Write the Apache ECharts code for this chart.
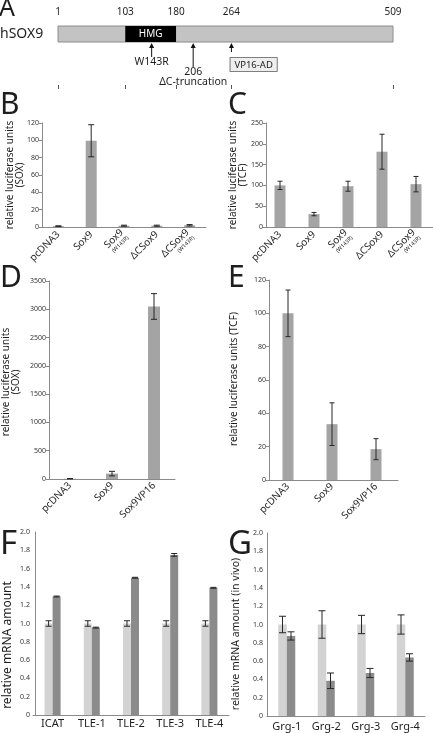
<!DOCTYPE html>
<html><head><meta charset="utf-8">
<script src="https://cdn.jsdelivr.net/npm/echarts@6/dist/echarts.min.js"></script>
<style>html,body{margin:0;padding:0;background:#fff}#c{width:433px;height:733px}</style>
</head><body><div id="c"></div>
<script>
// ---------- Panel A: hSOX9 domain map ----------
const aTicks = [1, 103, 180, 264, 509];
const aProtein = [1, 509];
const aHmg = [103, 180];
const aMarkerPos = [143, 206, 264];
const aMarkerLabels = ['W143R', '206\nΔC-truncation', ''];
const aVp16Start = 264;

// ---------- Panel B: SOX reporter ----------
const bCats = ['pcDNA3', 'Sox9', 'Sox9 (W143R)', 'ΔCSox9', 'ΔCSox9 (W143R)'];
const bVals = [1, 99.5, 1.5, 1.5, 2];
const bErr = [0.4, 18.5, 0.6, 0.6, 0.8];

// ---------- Panel C: TCF reporter ----------
const cCats = ['pcDNA3', 'Sox9', 'Sox9 (W143R)', 'ΔCSox9', 'ΔCSox9 (W143R)'];
const cVals = [100, 31, 98, 181, 103];
const cErr = [10, 4, 12, 42, 18.5];

// ---------- Panel D: SOX reporter, VP16 ----------
const dCats = ['pcDNA3', 'Sox9', 'Sox9VP16'];
const dVals = [5, 95, 3050];
const dErr = [3, 40, 227];

// ---------- Panel E: TCF reporter, VP16 ----------
const eCats = ['pcDNA3', 'Sox9', 'Sox9VP16'];
const eVals = [100, 33.5, 18.5];
const eErr = [14, 12.8, 6.3];

// ---------- Panel F: mRNA amount ----------
const fCats = ['ICAT', 'TLE-1', 'TLE-2', 'TLE-3', 'TLE-4'];
const fCtrl = [1, 1, 1, 1, 1];
const fCtrlErr = [0.03, 0.03, 0.03, 0.03, 0.03];
const fSox = [1.295, 0.955, 1.5, 1.75, 1.39];
const fSoxErr = [0.005, 0.005, 0.005, 0.015, 0.005];

// ---------- Panel G: mRNA amount in vivo ----------
const gCats = ['Grg-1', 'Grg-2', 'Grg-3', 'Grg-4'];
const gCtrl = [1, 1, 1, 1];
const gCtrlErr = [0.09, 0.15, 0.1, 0.105];
const gSox = [0.875, 0.385, 0.47, 0.64];
const gSoxErr = [0.045, 0.085, 0.05, 0.04];

const FONT = '"Noto Sans", "DejaVu Sans", sans-serif';
const INK = '#1e1e1e';

function txt(text, x, y, size, o) {
  o = o || {};
  const al = o.align || 'left', va = o.va || 'middle';
  return { type: 'text', x: x, y: y, rotation: o.rot || 0, silent: true,
    style: { text: text, x: 0, y: 0, font: size + 'px ' + FONT, fill: o.fill || INK,
      align: al, textAlign: al, verticalAlign: va, textVerticalAlign: va,
      lineHeight: o.lh || undefined } };
}

function errBar(off, cap) {
  return function (params, api) {
    const i = api.value(0), v = api.value(1), e = api.value(2);
    const p1 = api.coord([i, v + e]), p2 = api.coord([i, v - e]);
    const x = p1[0] + off;
    const st = { stroke: '#262626', lineWidth: 1 };
    return { type: 'group', children: [
      { type: 'line', shape: { x1: x, y1: p1[1], x2: x, y2: p2[1] }, style: st },
      { type: 'line', shape: { x1: x - cap / 2, y1: p1[1], x2: x + cap / 2, y2: p1[1] }, style: st },
      { type: 'line', shape: { x1: x - cap / 2, y1: p2[1], x2: x + cap / 2, y2: p2[1] }, style: st }
    ] };
  };
}

function rotLabel(v) {
  const m = v.match(/^(.*) \((.*)\)$/);
  if (m) return '{m|' + m[1] + '}\n{s|(' + m[2] + ')}';
  return '{m|' + v + '}';
}
const rotRich = {
  m: { fontSize: 10, fontFamily: FONT, color: INK, lineHeight: 11 },
  s: { fontSize: 5.5, fontFamily: FONT, color: INK, lineHeight: 6 }
};

function catX(gi, cats, rotate, fs, margin) {
  return { gridIndex: gi, type: 'category', data: cats,
    axisLine: { lineStyle: { color: '#8a8a8a', width: 1 } },
    axisTick: { show: false },
    axisLabel: rotate ? { rotate: 45, interval: 0, margin: margin, formatter: rotLabel, rich: rotRich }
      : { interval: 0, margin: margin, fontSize: fs, fontFamily: FONT, color: INK } };
}
function valY(gi, max, step, off, fmt, ticks, margin) {
  return { gridIndex: gi, type: 'value', min: 0, max: max, interval: step, offset: off,
    axisLine: { show: true, lineStyle: { color: '#8a8a8a', width: 1 } },
    axisTick: { show: ticks, length: 3, lineStyle: { color: '#8a8a8a' } },
    axisLabel: { fontSize: 7, fontFamily: FONT, color: '#333', margin: margin, formatter: fmt },
    splitLine: { show: false } };
}
const plain = v => String(v);
const dec1 = v => (v === 0 ? '0' : v.toFixed(1));

// ---- Panel A renderers ----
function renderProtein(params, api) {
  const x0 = api.coord([api.value(0), 0])[0], x1 = api.coord([api.value(1), 0])[0];
  const top = params.coordSys.y;
  return { type: 'rect', shape: { x: x0, y: top + 7, width: x1 - x0, height: 16 },
    style: { fill: '#c3c3c3', stroke: '#8c8c8c', lineWidth: 1 } };
}
function renderHmg(params, api) {
  const x0 = api.coord([api.value(0), 0])[0], x1 = api.coord([api.value(1), 0])[0];
  const top = params.coordSys.y;
  return { type: 'group', children: [
    { type: 'rect', shape: { x: x0, y: top + 7, width: x1 - x0, height: 16 }, style: { fill: '#000' } },
    { type: 'text', style: { text: 'HMG', x: (x0 + x1) / 2, y: top + 15.5, font: '10px ' + FONT, fill: '#fff',
      align: 'center', textAlign: 'center', verticalAlign: 'middle', textVerticalAlign: 'middle' } }
  ] };
}
const markerLen = [14, 24, 9];
function renderMarker(params, api) {
  const i = params.dataIndex;
  const x = api.coord([api.value(0), 0])[0];
  const y0 = params.coordSys.y + 24;
  const len = markerLen[i];
  const ch = [
    { type: 'line', shape: { x1: x, y1: y0 + 3, x2: x, y2: y0 + len }, style: { stroke: '#111', lineWidth: 1 } },
    { type: 'polygon', shape: { points: [[x, y0], [x - 2.5, y0 + 5], [x + 2.5, y0 + 5]] }, style: { fill: '#111' } }
  ];
  const lab = aMarkerLabels[i];
  if (lab) ch.push({ type: 'text', style: { text: lab, x: x, y: y0 + len + 0.5, font: '10.5px ' + FONT, fill: INK,
    lineHeight: 9.5, align: 'center', textAlign: 'center', verticalAlign: 'top', textVerticalAlign: 'top' } });
  return { type: 'group', children: ch };
}
function renderVp16(params, api) {
  const x = api.coord([api.value(0), 0])[0];
  const top = params.coordSys.y;
  return { type: 'text', style: { text: 'VP16-AD', x: x - 1, y: top + 39, font: '9.5px ' + FONT, fill: INK,
    align: 'left', textAlign: 'left', verticalAlign: 'top', textVerticalAlign: 'top',
    backgroundColor: '#eeeeee', borderColor: '#555', borderWidth: 0.8, padding: [2, 4, 1, 4] } };
}

const option = {
  backgroundColor: '#fff',
  animation: false,
  grid: [
    { left: 58, width: 335, top: 19, height: 70 },   // A
    { left: 42, width: 164, top: 123, height: 104 }, // B
    { left: 263, width: 172, top: 123, height: 104 },// C
    { left: 49, width: 126, top: 281, height: 198 }, // D
    { left: 266, width: 132, top: 280, height: 200 },// E
    { left: 33, width: 196, top: 532, height: 183 }, // F
    { left: 267, width: 158, top: 533, height: 183 } // G
  ],
  xAxis: [
    { gridIndex: 0, type: 'value', position: 'top', min: aProtein[0], max: aProtein[1],
      axisLine: { show: false }, splitLine: { show: false },
      axisTick: { show: true, customValues: aTicks, length: 4, lineStyle: { color: '#555' } },
      axisLabel: { customValues: aTicks, fontSize: 10, fontFamily: FONT, color: INK, margin: 2 } },
    catX(1, bCats, true, 10, 6),
    catX(2, cCats, true, 10, 6),
    catX(3, dCats, true, 10, 5),
    catX(4, eCats, true, 10, 5),
    catX(5, fCats, false, 11, 3),
    catX(6, gCats, false, 11, 5)
  ],
  yAxis: [
    { gridIndex: 0, type: 'value', min: 0, max: 1, show: false },
    valY(1, 120, 20, 0, plain, true, 3),
    valY(2, 250, 50, -3, plain, true, 3),
    valY(3, 3500, 500, 0, plain, true, 3),
    valY(4, 120, 20, -3, plain, true, 3),
    valY(5, 2, 0.2, -2, dec1, false, 5),
    valY(6, 2, 0.2, 0, dec1, false, 4)
  ],
  series: [
    { type: 'custom', xAxisIndex: 0, yAxisIndex: 0, data: [[aProtein[0], aProtein[1]]], encode: { x: [0, 1] }, renderItem: renderProtein, silent: true, z: 1 },
    { type: 'custom', xAxisIndex: 0, yAxisIndex: 0, data: [[aHmg[0], aHmg[1]]], encode: { x: [0, 1] }, renderItem: renderHmg, silent: true, z: 2 },
    { type: 'custom', xAxisIndex: 0, yAxisIndex: 0, data: aMarkerPos.map(p => [p]), encode: { x: 0 }, renderItem: renderMarker, silent: true, z: 3 },
    { type: 'custom', xAxisIndex: 0, yAxisIndex: 0, data: [[aVp16Start]], encode: { x: 0 }, renderItem: renderVp16, silent: true, z: 3 },

    { type: 'bar', xAxisIndex: 1, yAxisIndex: 1, data: bVals, barWidth: 11, itemStyle: { color: '#a4a4a4' }, silent: true },
    { type: 'custom', xAxisIndex: 1, yAxisIndex: 1, data: bVals.map((v, i) => [i, v, bErr[i]]), encode: { x: 0, y: 1 }, renderItem: errBar(0, 6), z: 5, silent: true },

    { type: 'bar', xAxisIndex: 2, yAxisIndex: 2, data: cVals, barWidth: 11, itemStyle: { color: '#a4a4a4' }, silent: true },
    { type: 'custom', xAxisIndex: 2, yAxisIndex: 2, data: cVals.map((v, i) => [i, v, cErr[i]]), encode: { x: 0, y: 1 }, renderItem: errBar(0, 5), z: 5, silent: true },

    { type: 'bar', xAxisIndex: 3, yAxisIndex: 3, data: dVals, barWidth: 12, itemStyle: { color: '#a4a4a4' }, silent: true },
    { type: 'custom', xAxisIndex: 3, yAxisIndex: 3, data: dVals.map((v, i) => [i, v, dErr[i]]), encode: { x: 0, y: 1 }, renderItem: errBar(0, 6), z: 5, silent: true },

    { type: 'bar', xAxisIndex: 4, yAxisIndex: 4, data: eVals, barWidth: 11, itemStyle: { color: '#a4a4a4' }, silent: true },
    { type: 'custom', xAxisIndex: 4, yAxisIndex: 4, data: eVals.map((v, i) => [i, v, eErr[i]]), encode: { x: 0, y: 1 }, renderItem: errBar(0, 5), z: 5, silent: true },

    { type: 'bar', xAxisIndex: 5, yAxisIndex: 5, data: fCtrl, barWidth: 8, barGap: '0%', itemStyle: { color: '#d3d3d3' }, silent: true },
    { type: 'bar', xAxisIndex: 5, yAxisIndex: 5, data: fSox, barWidth: 8, barGap: '0%', itemStyle: { color: '#8b8b8b' }, silent: true },
    { type: 'custom', xAxisIndex: 5, yAxisIndex: 5, data: fCtrl.map((v, i) => [i, v, fCtrlErr[i]]), encode: { x: 0, y: 1 }, renderItem: errBar(-4, 6), z: 5, silent: true },
    { type: 'custom', xAxisIndex: 5, yAxisIndex: 5, data: fSox.map((v, i) => [i, v, fSoxErr[i]]), encode: { x: 0, y: 1 }, renderItem: errBar(4, 6), z: 5, silent: true },

    { type: 'bar', xAxisIndex: 6, yAxisIndex: 6, data: gCtrl, barWidth: 8.5, barGap: '0%', itemStyle: { color: '#d3d3d3' }, silent: true },
    { type: 'bar', xAxisIndex: 6, yAxisIndex: 6, data: gSox, barWidth: 8.5, barGap: '0%', itemStyle: { color: '#8b8b8b' }, silent: true },
    { type: 'custom', xAxisIndex: 6, yAxisIndex: 6, data: gCtrl.map((v, i) => [i, v, gCtrlErr[i]]), encode: { x: 0, y: 1 }, renderItem: errBar(-4.25, 7), z: 5, silent: true },
    { type: 'custom', xAxisIndex: 6, yAxisIndex: 6, data: gSox.map((v, i) => [i, v, gSoxErr[i]]), encode: { x: 0, y: 1 }, renderItem: errBar(4.25, 7), z: 5, silent: true }
  ],
  graphic: { elements: [
    txt('A', -1, 9, 25),
    txt('hSOX9', 0, 34, 14),
    txt('B', 0, 105, 30),
    txt('C', 228, 105, 30),
    txt('D', 0, 278, 30),
    txt('E', 228, 278, 30),
    txt('F', 0, 545, 33),
    txt('G', 228, 545, 33),
    txt('relative luciferase units\n(SOX)', 15.5, 175, 10, { rot: Math.PI / 2, align: 'center', lh: 10 }),
    txt('relative luciferase units\n(TCF)', 238, 175, 10, { rot: Math.PI / 2, align: 'center', lh: 10 }),
    txt('relative luciferase units\n(SOX)', 11.5, 382, 10, { rot: Math.PI / 2, align: 'center', lh: 10 }),
    txt('relative luciferase units (TCF)', 234, 379, 10, { rot: Math.PI / 2, align: 'center' }),
    txt('relative mRNA amount', 8, 645, 12, { rot: Math.PI / 2, align: 'center' }),
    txt('relative mRNA amount (in vivo)', 236, 634, 10.5, { rot: Math.PI / 2, align: 'center' })
  ] }
};

const chart = echarts.init(document.getElementById('c'), null, { renderer: 'canvas', width: 433, height: 733 });
chart.setOption(option);
</script>
</body></html>
